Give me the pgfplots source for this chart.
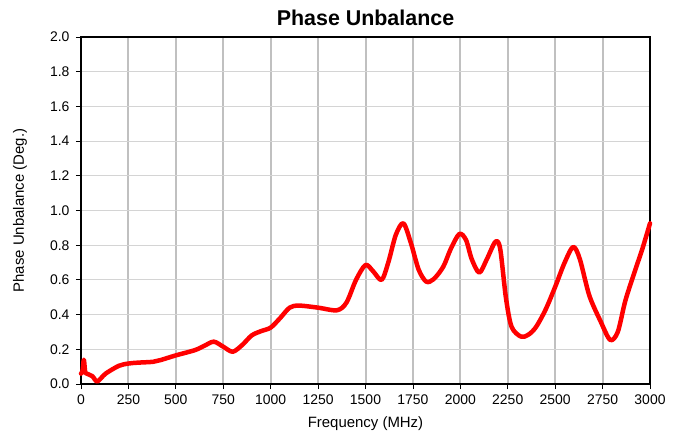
\documentclass[border=0pt]{standalone}
\usepackage{pgfplots}
\pgfplotsset{compat=1.18}
\usepackage{fontspec}
\setmainfont{Liberation Sans}
\definecolor{vgrid}{RGB}{192,192,192}
\definecolor{hgrid}{RGB}{212,212,212}
\begin{document}
\begin{tikzpicture}
\useasboundingbox (-81bp,-52bp) rectangle (598bp,384bp);
\begin{axis}[
  at={(0,0)}, anchor=south west,
  scale only axis, width=569bp, height=347bp,
  xmin=0, xmax=3000, ymin=0, ymax=2.0,
  xtick={0,250,...,3000}, ytick={0,0.2,...,2.0},
  /pgf/number format/assume math mode=true,
  xticklabel style={font=\fontsize{14}{16}\selectfont, /pgf/number format/1000 sep={}, yshift=-2bp},
  yticklabel style={font=\fontsize{14}{16}\selectfont, /pgf/number format/fixed, /pgf/number format/fixed zerofill, /pgf/number format/precision=1, xshift=-3bp},
  tick align=outside, major tick length=5bp,
  tick style={black, line width=0.8bp},
  axis line style={black, line width=1.8bp},
  xmajorgrids, ymajorgrids,
  x grid style={vgrid, line width=2bp},
  y grid style={hgrid, line width=1bp},
  title={\bfseries Phase Unbalance},
  title style={font=\fontsize{21.5}{24}\selectfont\bfseries, at={(0.5,1)}, anchor=south, yshift=2bp},
  xlabel={Frequency (MHz)},
  ylabel={Phase Unbalance (Deg.)},
  label style={font=\fontsize{15}{17}\selectfont},
  xlabel style={at={(axis description cs:0.5,-0.115)}, anchor=center},
  ylabel style={at={(axis description cs:-0.107,0.5)}, anchor=center},
  xtick pos=bottom, ytick pos=left,
  clip=false,
]
\addplot[red, line width=4.5bp, smooth, tension=0.5, line join=round, line cap=round] coordinates {
(0,0.06) (8,0.075) (15,0.14) (22,0.07) (30,0.06) (60,0.045) (86,0.015) (130,0.06) (200,0.105) (250,0.118) (300,0.123) (380,0.128) (420,0.138) (500,0.165) (600,0.195) (650,0.22) (700,0.244) (750,0.215) (800,0.186) (850,0.225) (900,0.28) (950,0.305) (1000,0.325) (1050,0.38) (1100,0.44) (1150,0.452) (1250,0.44) (1350,0.425) (1400,0.47) (1450,0.6) (1500,0.686) (1540,0.65) (1585,0.6) (1620,0.7) (1660,0.86) (1700,0.926) (1740,0.81) (1780,0.66) (1820,0.59) (1860,0.605) (1910,0.676) (1950,0.78) (1995,0.865) (2030,0.83) (2060,0.72) (2100,0.642) (2140,0.72) (2185,0.82) (2210,0.78) (2240,0.5) (2270,0.33) (2320,0.273) (2360,0.285) (2400,0.33) (2450,0.43) (2500,0.56) (2550,0.7) (2595,0.79) (2630,0.72) (2680,0.51) (2740,0.36) (2790,0.254) (2830,0.3) (2870,0.48) (2920,0.65) (2960,0.78) (3000,0.926)
};
\end{axis}
\end{tikzpicture}
\end{document}
